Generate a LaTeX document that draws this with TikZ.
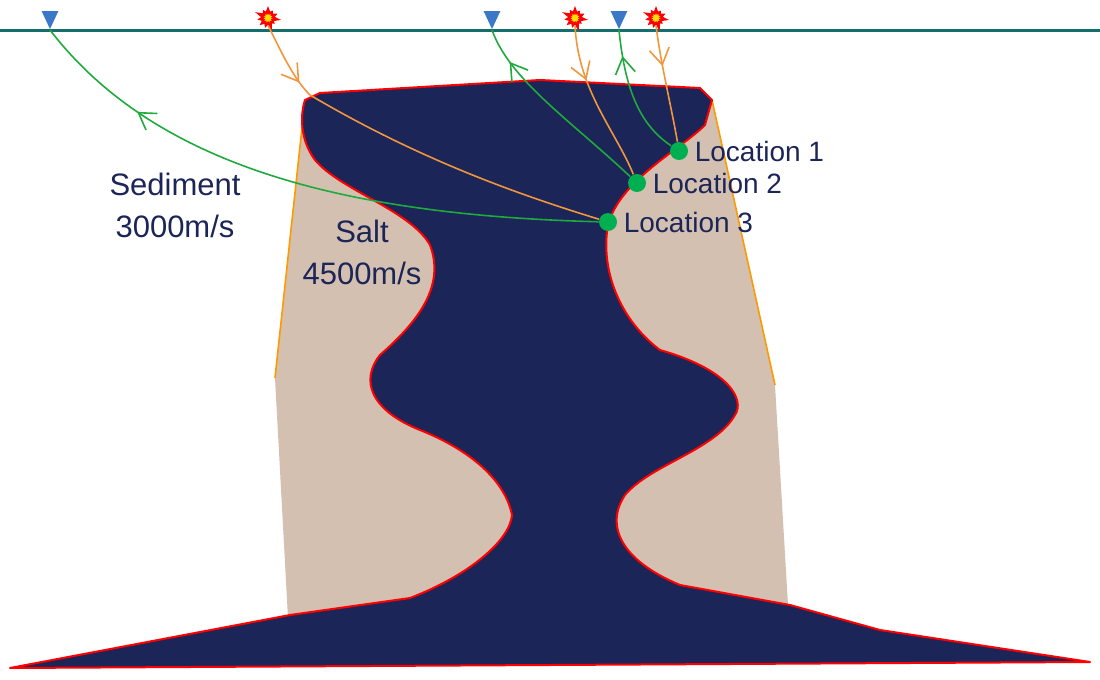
\documentclass[tikz,border=0pt]{standalone}
\usepackage{fontspec}
\setmainfont{Liberation Sans}
\usetikzlibrary{shapes.symbols,shapes.geometric,arrows.meta,decorations.markings}
\definecolor{navy}{RGB}{27,37,88}
\definecolor{salt}{RGB}{211,192,176}
\definecolor{teal}{RGB}{20,110,110}
\definecolor{rayg}{RGB}{30,170,60}
\definecolor{rayo}{RGB}{240,150,60}
\definecolor{dotg}{RGB}{0,176,80}
\definecolor{recb}{RGB}{60,120,200}
\tikzset{
  receiver/.style={isosceles triangle,shape border rotate=-90,isosceles triangle apex angle=50,
    fill=recb,inner sep=0pt,minimum height=9pt,minimum width=8pt},
  shot/.style={starburst,starburst points=11,starburst point height=2.5pt,fill=yellow!80!orange,
    draw=red,line width=1.2pt,inner sep=0pt,minimum size=10pt},
  loc/.style={circle,fill=dotg,inner sep=0pt,minimum size=9pt},
  loclabel/.style={right,text=navy,font=\fontsize{14}{16}\selectfont,inner sep=3pt},
  layer/.style={text=navy,font=\fontsize{15.5}{21}\selectfont,align=center},
  ray/.style={line width=0.8pt},
  arrowat/.style={postaction={decorate},decoration={markings,
    mark=at position #1 with {\arrow[line width=0.8pt]{Straight Barb[length=8pt,width=10pt]}}}}
}
\begin{document}
\begin{tikzpicture}[x=0.5pt,y=-0.5pt]
\useasboundingbox (0,0) rectangle (1100,680);
% salt flanks
\fill[salt] (305,100) -- (275,378) -- (288,618) -- (788,605) -- (775,385) -- (712,100) -- cycle;
\draw[orange!80!yellow,line width=0.8pt] (305,100) -- (275,378);
\draw[orange!80!yellow,line width=0.8pt] (712,100) -- (775,385);
% salt body
\draw[red,line width=1pt,fill=navy,line join=round]
  (10,668) -- (290,615) -- (410,598) .. controls (470,575) and (510,540) .. (512,515)
  .. controls (505,480) and (470,450) .. (420,430) .. controls (370,410) and (360,380) .. (380,355)
  .. controls (420,320) and (445,285) .. (430,245) .. controls (410,210) and (340,190) .. (315,160)
  .. controls (300,140) and (300,115) .. (305,100) -- (320,93) -- (540,80) -- (700,88) -- (712,100)
  -- (705,125) .. controls (680,150) and (620,180) .. (608,225)
  .. controls (600,270) and (620,320) .. (660,350) .. controls (730,370) and (745,400) .. (735,415)
  .. controls (715,450) and (650,465) .. (625,495) .. controls (605,525) and (620,560) .. (680,585)
  -- (790,605) -- (880,630) -- (1090,662) -- cycle;
% surface
\draw[teal,line width=1.5pt] (0,30) -- (1100,30);
\node[receiver,anchor=apex] (rec1) at (50,30) {};
\node[receiver,anchor=apex] (rec2) at (492,30) {};
\node[receiver,anchor=apex] (rec3) at (619,30) {};
\node[shot] (src1) at (268,18) {};
\node[shot] (src2) at (575,18) {};
\node[shot] (src3) at (656,18) {};
\coordinate (top1) at (310,95);
% image points
\node[loc] (loc1) at (679,151) {};
\node[loc] (loc2) at (637,183) {};
\node[loc] (loc3) at (608,222) {};
% rays
\draw[ray,rayo,arrowat=0.8] (src1.south) .. controls (285,60) and (295,80) .. (top1);
\draw[ray,rayo] (top1) .. controls (420,160) and (520,195) .. (loc3);
\draw[ray,rayg,arrowat=0.8] (loc3) .. controls (330,215) and (150,160) .. (rec1.apex);
\draw[ray,rayo,arrowat=0.35] (src2.south) .. controls (578,90) and (615,130) .. (loc2);
\draw[ray,rayg,arrowat=0.82] (loc2) .. controls (570,120) and (510,80) .. (rec2.apex);
\draw[ray,rayo,arrowat=0.35] (src3.south) .. controls (660,60) and (672,110) .. (loc1);
\draw[ray,rayg,arrowat=0.8] (loc1) .. controls (640,125) and (625,90) .. (rec3.apex);
% labels
\node[loclabel] (lab1) at (loc1.east) {Location 1};
\node[loclabel] (lab2) at (loc2.east) {Location 2};
\node[loclabel] (lab3) at (loc3.east) {Location 3};
\node[layer] (sed) at (175,205) {Sediment\\3000m/s};
\node[layer] (sal) at (362,252) {Salt\\4500m/s};
\end{tikzpicture}
\end{document}
